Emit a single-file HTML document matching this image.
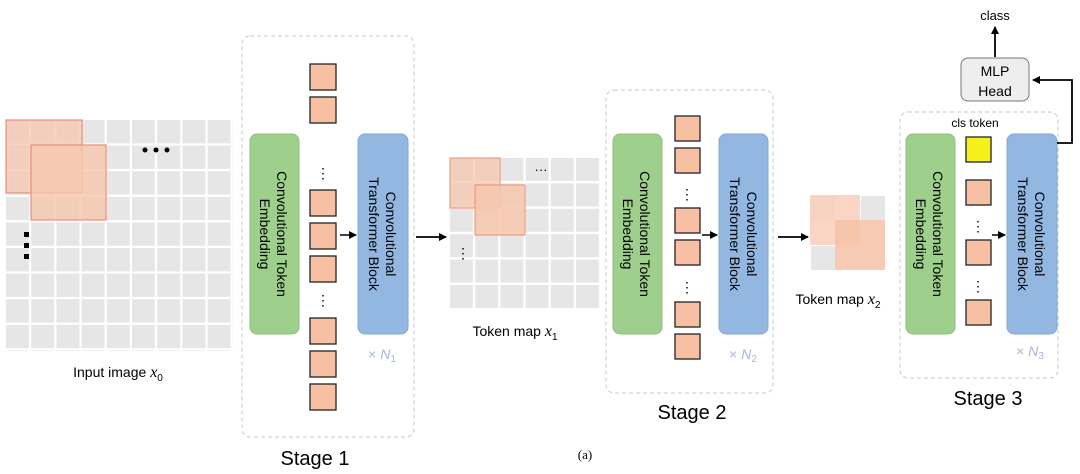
<!DOCTYPE html>
<html><head><meta charset="utf-8"><style>
body{margin:0;background:#fff}
svg{display:block}
text{font-family:"Liberation Sans",sans-serif}
</style></head><body>
<svg width="1080" height="474" viewBox="0 0 1080 474" xmlns="http://www.w3.org/2000/svg">
<defs>
<marker id="ah" markerWidth="8" markerHeight="8" refX="7" refY="4" orient="auto" markerUnits="userSpaceOnUse"><path d="M0,0 L8,4 L0,8 z" fill="#000"/></marker>
<pattern id="g1" x="6" y="120" width="25.2" height="25.6" patternUnits="userSpaceOnUse"><rect x="0" y="0" width="23" height="23.4" fill="#e6e6e6"/></pattern>
<pattern id="g2" x="450" y="158" width="25.2" height="25.4" patternUnits="userSpaceOnUse"><rect x="0" y="0" width="23" height="23" fill="#e6e6e6"/></pattern>
</defs>

<!-- input image -->
<rect x="6" y="120" width="227" height="231" fill="url(#g1)"/>
<rect x="6" y="120" width="76" height="73" fill="#f6c7ad" fill-opacity="0.75" stroke="#ec8c78" stroke-width="1.2"/>
<rect x="31" y="145" width="75" height="75" fill="#f6c7ad" fill-opacity="0.8" stroke="#ec8c78" stroke-width="1.2"/>
<g fill="#000"><circle cx="145" cy="150" r="2.5"/><circle cx="156" cy="150" r="2.5"/><circle cx="167" cy="150" r="2.5"/>
<rect x="24" y="232" width="5" height="5"/><rect x="24" y="243" width="5" height="5"/><rect x="24" y="254" width="5" height="5"/></g>
<text x="118" y="377" font-size="14" text-anchor="middle">Input image <tspan font-family="Liberation Serif" font-style="italic" font-size="16">x</tspan><tspan font-size="10" dy="4">0</tspan></text>

<!-- stage 1 -->
<rect x="242" y="36" width="172" height="401" rx="8" fill="none" stroke="#c8c8c8" stroke-dasharray="4,3"/>
<rect x="250" y="134" width="49" height="200" rx="7" fill="#9fcf8d" stroke="#8fbf7d"/>
<text transform="translate(277,234) rotate(90)" font-size="14" text-anchor="middle">Convolutional Token</text>
<text transform="translate(260,234) rotate(90)" font-size="14" text-anchor="middle">Embedding</text>
<rect x="358" y="134" width="50" height="200" rx="7" fill="#92b8e2" stroke="#82a8d2"/>
<text transform="translate(386,234) rotate(90)" font-size="14" text-anchor="middle">Convolutional</text>
<text transform="translate(369,234) rotate(90)" font-size="14" text-anchor="middle">Transformer Block</text>
<g fill="#f7c0a2" stroke="#222" stroke-width="1.3">
<rect x="310" y="64" width="26" height="26"/><rect x="310" y="97" width="26" height="26"/>
<rect x="310" y="190" width="26" height="26"/><rect x="310" y="223" width="26" height="26"/><rect x="310" y="256" width="26" height="26"/>
<rect x="310" y="318" width="26" height="26"/><rect x="310" y="351" width="26" height="26"/><rect x="310" y="384" width="26" height="26"/>
</g>
<text x="323" y="178" font-size="14" text-anchor="middle">⋮</text>
<text x="323" y="305" font-size="14" text-anchor="middle">⋮</text>
<line x1="340" y1="235" x2="356" y2="235" stroke="#000" stroke-width="1.5" marker-end="url(#ah)"/>
<text x="382" y="359" font-size="14" fill="#a8b6d8" text-anchor="middle">× <tspan font-style="italic">N</tspan><tspan font-size="10" dy="3">1</tspan></text>
<text x="315" y="465" font-size="20" text-anchor="middle">Stage 1</text>

<line x1="416" y1="237" x2="446" y2="237" stroke="#000" stroke-width="1.8" marker-end="url(#ah)"/>

<!-- token map x1 -->
<rect x="450" y="158" width="151" height="152" fill="url(#g2)"/>
<rect x="450" y="158" width="50" height="50" fill="#f6c7ad" fill-opacity="0.75" stroke="#ec8c78" stroke-width="1"/>
<rect x="475" y="185" width="50" height="50" fill="#f6c7ad" fill-opacity="0.85" stroke="#ec8c78" stroke-width="1"/>
<text x="541" y="174" font-size="13" text-anchor="middle">···</text>
<text x="463" y="258" font-size="14" text-anchor="middle">⋮</text>
<text x="515" y="336" font-size="14" text-anchor="middle">Token map <tspan font-family="Liberation Serif" font-style="italic" font-size="16">x</tspan><tspan font-size="10" dy="4">1</tspan></text>

<!-- stage 2 -->
<rect x="606" y="90" width="167" height="303" rx="8" fill="none" stroke="#c8c8c8" stroke-dasharray="4,3"/>
<rect x="613" y="134" width="49" height="200" rx="7" fill="#9fcf8d" stroke="#8fbf7d"/>
<text transform="translate(640,234) rotate(90)" font-size="14" text-anchor="middle">Convolutional Token</text>
<text transform="translate(623,234) rotate(90)" font-size="14" text-anchor="middle">Embedding</text>
<rect x="719" y="134" width="49" height="200" rx="7" fill="#92b8e2" stroke="#82a8d2"/>
<text transform="translate(747,234) rotate(90)" font-size="14" text-anchor="middle">Convolutional</text>
<text transform="translate(730,234) rotate(90)" font-size="14" text-anchor="middle">Transformer Block</text>
<g fill="#f7c0a2" stroke="#222" stroke-width="1.3">
<rect x="675" y="116" width="25" height="25"/><rect x="675" y="148" width="25" height="25"/>
<rect x="675" y="208" width="25" height="25"/><rect x="675" y="240" width="25" height="25"/>
<rect x="675" y="302" width="25" height="25"/><rect x="675" y="334" width="25" height="25"/>
</g>
<text x="687" y="199" font-size="14" text-anchor="middle">⋮</text>
<text x="687" y="292" font-size="14" text-anchor="middle">⋮</text>
<line x1="702" y1="235" x2="717" y2="235" stroke="#000" stroke-width="1.5" marker-end="url(#ah)"/>
<text x="743" y="359" font-size="14" fill="#a8b6d8" text-anchor="middle">× <tspan font-style="italic">N</tspan><tspan font-size="10" dy="3">2</tspan></text>
<text x="692" y="419" font-size="20" text-anchor="middle">Stage 2</text>

<line x1="778" y1="237" x2="808" y2="237" stroke="#000" stroke-width="1.8" marker-end="url(#ah)"/>

<!-- token map x2 -->
<rect x="811" y="196" width="24" height="24" fill="#e6e6e6"/><rect x="861" y="196" width="24" height="24" fill="#e6e6e6"/>
<rect x="811" y="246" width="24" height="24" fill="#e6e6e6"/>
<rect x="810" y="195" width="50" height="50" fill="#f8cfb8" fill-opacity="0.85"/>
<rect x="835" y="220" width="50" height="50" fill="#f6c2a6" fill-opacity="0.85"/>
<text x="838" y="304" font-size="14" text-anchor="middle">Token map <tspan font-family="Liberation Serif" font-style="italic" font-size="16">x</tspan><tspan font-size="10" dy="4">2</tspan></text>

<!-- stage 3 -->
<rect x="900" y="112" width="158" height="266" rx="8" fill="none" stroke="#c8c8c8" stroke-dasharray="4,3"/>
<text x="975" y="127" font-size="12" text-anchor="middle">cls token</text>
<rect x="906" y="134" width="49" height="200" rx="7" fill="#9fcf8d" stroke="#8fbf7d"/>
<text transform="translate(933,234) rotate(90)" font-size="14" text-anchor="middle">Convolutional Token</text>
<text transform="translate(916,234) rotate(90)" font-size="14" text-anchor="middle">Embedding</text>
<rect x="1007" y="134" width="50" height="200" rx="7" fill="#92b8e2" stroke="#82a8d2"/>
<text transform="translate(1035,234) rotate(90)" font-size="14" text-anchor="middle">Convolutional</text>
<text transform="translate(1018,234) rotate(90)" font-size="14" text-anchor="middle">Transformer Block</text>
<rect x="966" y="137" width="25" height="25" fill="#f5ef1a" stroke="#222" stroke-width="1.3"/>
<g fill="#f7c0a2" stroke="#222" stroke-width="1.3">
<rect x="966" y="180" width="25" height="25"/><rect x="966" y="240" width="25" height="25"/><rect x="966" y="300" width="25" height="25"/>
</g>
<text x="978" y="231" font-size="14" text-anchor="middle">⋮</text>
<text x="978" y="291" font-size="14" text-anchor="middle">⋮</text>
<line x1="992" y1="235" x2="1005" y2="235" stroke="#000" stroke-width="1.5" marker-end="url(#ah)"/>
<text x="1030" y="356" font-size="14" fill="#a8b6d8" text-anchor="middle">× <tspan font-style="italic">N</tspan><tspan font-size="10" dy="3">3</tspan></text>
<text x="988" y="405" font-size="20" text-anchor="middle">Stage 3</text>

<!-- MLP head -->
<rect x="961" y="58" width="68" height="43" rx="7" fill="#eeeeee" stroke="#777"/>
<text x="995" y="76" font-size="14" text-anchor="middle">MLP</text>
<text x="995" y="96" font-size="14" text-anchor="middle">Head</text>
<polyline points="1057,143 1072,143 1072,80 1033,80" fill="none" stroke="#000" stroke-width="1.8" marker-end="url(#ah)"/>
<line x1="995" y1="57" x2="995" y2="27" stroke="#000" stroke-width="1.8" marker-end="url(#ah)"/>
<text x="995" y="20" font-size="13" text-anchor="middle">class</text>

<text x="585" y="459" font-size="13" text-anchor="middle" style="font-family:'Liberation Serif',serif">(a)</text>
</svg>
</body></html>
